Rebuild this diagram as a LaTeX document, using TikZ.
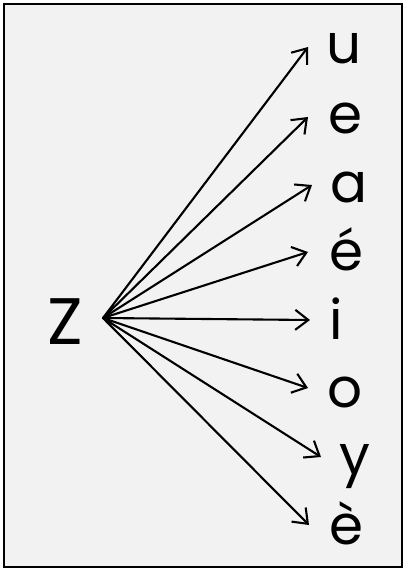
\documentclass[tikz,border=0pt]{standalone}
\usepackage{fontspec}
\setmainfont{Poppins}
\usetikzlibrary{arrows.meta}
\definecolor{bgcol}{HTML}{F2F2F2}
\begin{document}
\begin{tikzpicture}[x=1bp,y=-1bp,
  lbl/.style={font=\fontsize{55}{60}\selectfont, inner sep=0, anchor=center},
  zlbl/.style={font=\fontsize{66}{70}\selectfont, inner sep=0, anchor=center},
  arr/.style={-{Straight Barb[length=13bp,width=20bp,line width=2.1bp]}, line width=2.1bp, line cap=round}]
\useasboundingbox (0,0) rectangle (406,571);
\draw[fill=bgcol, line width=1.5bp] (4,4) rectangle (402,567);
\node[zlbl] (Z) at (65,322) {Z};
\coordinate (s) at (103,318);
\node[lbl] (u) at (344,49) {u};
\node[lbl] (e) at (345,118) {e};
\node[lbl] (a) at (349,187) {a};
\node[lbl] (ea) at (346,249.5) {é};
\node[lbl] (i) at (336,319) {i};
\node[lbl] (o) at (345,392) {o};
\node[lbl] (y) at (355,467) {y};
\node[lbl] (eg) at (346,523) {è};
\coordinate (tu) at (308,47);
\coordinate (te) at (308,117);
\coordinate (ta) at (312,185);
\coordinate (tea) at (308,252);
\coordinate (ti) at (310,320);
\coordinate (to) at (308,388);
\coordinate (ty) at (321,457);
\coordinate (teg) at (309,525);
\foreach \t in {tu,te,ta,tea,ti,to,ty,teg}
  \draw[arr] (s) -- (\t);
\end{tikzpicture}
\end{document}
